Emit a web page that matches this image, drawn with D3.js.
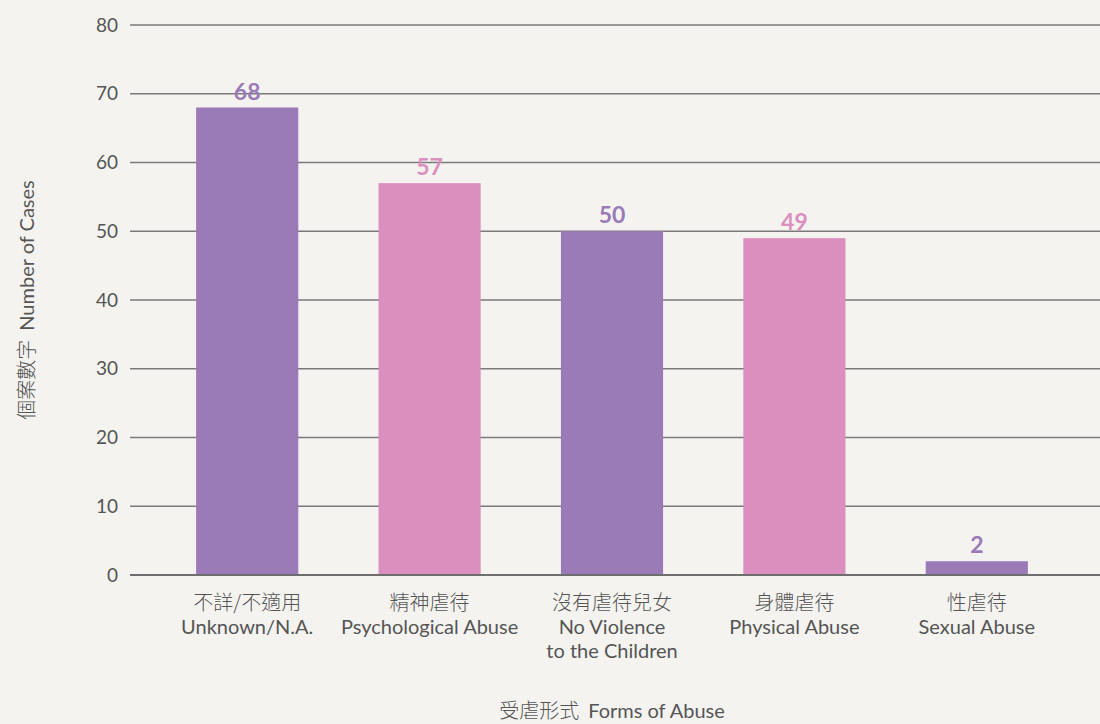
<!DOCTYPE html>
<html>
<head>
<meta charset="utf-8">
<script src="https://cdn.jsdelivr.net/npm/d3@7"></script>
<style>
  html, body { margin: 0; padding: 0; background: #f4f3f0; }
  svg { display: block; }
  text { font-family: Lato, "Noto Sans CJK TC", sans-serif; }
</style>
</head>
<body>
<svg id="chart" width="1100" height="724"></svg>
<script>
const categoriesZh = ["不詳/不適用", "精神虐待", "沒有虐待兒女", "身體虐待", "性虐待"];
const categoriesEn = [["Unknown/N.A."], ["Psychological Abuse"], ["No Violence", "to the Children"], ["Physical Abuse"], ["Sexual Abuse"]];
const values = [68, 57, 50, 49, 2];
const barColors = ["#9a7ab7", "#db8fbf", "#9a7ab7", "#db8fbf", "#9a7ab7"];
const yTicks = [0, 10, 20, 30, 40, 50, 60, 70, 80];
const yTitleZh = "個案數字";
const yTitleEn = "Number of Cases";
const xTitleZh = "受虐形式";
const xTitleEn = "Forms of Abuse";

const svg = d3.select("#chart");
const plotLeft = 130, plotRight = 1100, yTop = 25, yBottom = 575;

const x = d3.scaleBand()
  .domain(d3.range(values.length))
  .range([156, 1068])
  .paddingInner(0.44)
  .paddingOuter(0.22);

const y = d3.scaleLinear().domain([0, 80]).range([yBottom, yTop]);

const yAxis = d3.axisLeft(y).tickValues(yTicks).tickSize(0).tickPadding(0);
const gAxis = svg.append("g").attr("transform", `translate(${plotLeft},0)`).call(yAxis);
gAxis.select(".domain").remove();
gAxis.selectAll("text")
  .attr("x", -12)
  .attr("font-size", 19)
  .attr("fill", "#555")
  .style("font-family", "Lato, sans-serif");

svg.append("g").selectAll("line")
  .data(yTicks.filter(d => d !== 0))
  .join("line")
  .attr("x1", plotLeft).attr("x2", plotRight)
  .attr("y1", d => y(d)).attr("y2", d => y(d))
  .attr("stroke", "#7a7a7a").attr("stroke-width", 1.3);

svg.append("g").selectAll("rect")
  .data(values)
  .join("rect")
  .attr("x", (d, i) => x(i))
  .attr("width", x.bandwidth())
  .attr("y", d => y(d))
  .attr("height", d => y(0) - y(d))
  .attr("fill", (d, i) => barColors[i]);

svg.append("line")
  .attr("x1", plotLeft).attr("x2", plotRight)
  .attr("y1", y(0)).attr("y2", y(0))
  .attr("stroke", "#6e6e6e").attr("stroke-width", 2);

svg.append("g").selectAll("text")
  .data(values)
  .join("text")
  .attr("x", (d, i) => x(i) + x.bandwidth() / 2)
  .attr("y", d => y(d) - 8)
  .attr("text-anchor", "middle")
  .attr("font-size", 23)
  .attr("font-weight", 700)
  .attr("fill", (d, i) => barColors[i])
  .text(d => d);

const cat = svg.append("g").selectAll("g")
  .data(categoriesZh)
  .join("g")
  .attr("transform", (d, i) => `translate(${x(i) + x.bandwidth() / 2},0)`);

cat.append("text")
  .attr("y", 610)
  .attr("text-anchor", "middle")
  .attr("font-size", 20)
  .attr("fill", "#555")
  .style("font-family", "'Noto Sans CJK TC', sans-serif")
  .style("font-weight", 300)
  .text(d => d);

cat.each(function(d, i) {
  d3.select(this).selectAll("text.en")
    .data(categoriesEn[i])
    .join("text")
    .attr("class", "en")
    .attr("y", (t, j) => 634 + j * 24)
    .attr("text-anchor", "middle")
    .attr("font-size", 20)
    .attr("fill", "#555")
    .text(t => t);
});

function title(sel, zh, en) {
  sel.append("tspan")
    .style("font-family", "'Noto Sans CJK TC', sans-serif")
    .style("font-weight", 300)
    .text(zh);
  sel.append("tspan")
    .attr("dx", 9)
    .text(en);
}

const yt = svg.append("text")
  .attr("transform", `translate(34,300) rotate(-90)`)
  .attr("text-anchor", "middle")
  .attr("font-size", 20)
  .attr("fill", "#555");
title(yt, yTitleZh, yTitleEn);

const xt = svg.append("text")
  .attr("x", 612)
  .attr("y", 718)
  .attr("text-anchor", "middle")
  .attr("font-size", 20)
  .attr("fill", "#555");
title(xt, xTitleZh, xTitleEn);
</script>
</body>
</html>
